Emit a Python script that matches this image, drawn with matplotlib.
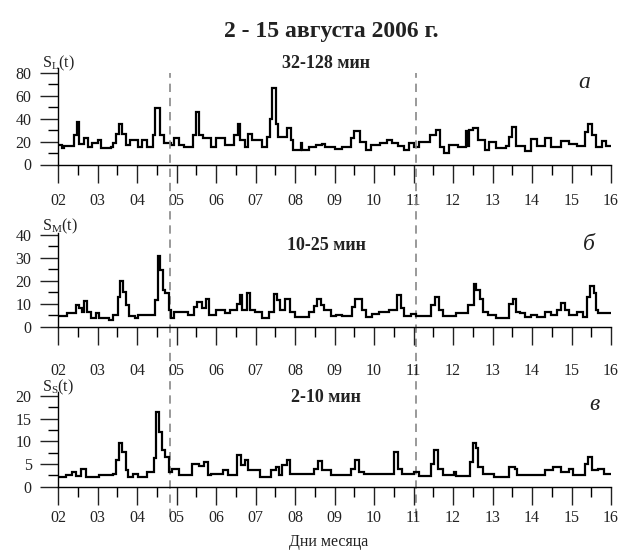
import matplotlib
matplotlib.use('Agg')
import matplotlib.pyplot as plt
from matplotlib.transforms import blended_transform_factory
from matplotlib.ticker import MultipleLocator, FixedLocator, FixedFormatter

plt.rcParams['font.family'] = ['Liberation Serif', 'DejaVu Serif']
plt.rcParams['mathtext.fontset'] = 'custom'
plt.rcParams['mathtext.rm'] = 'Liberation Serif'
plt.rcParams['mathtext.it'] = 'Liberation Serif:italic'

# ---------------- data (day of month, value) ----------------
t_long = [2.00, 2.10, 2.15, 2.40, 2.48, 2.54, 2.66, 2.77, 2.87, 3.00, 3.09, 3.35, 3.39, 3.48,
          3.55, 3.62, 3.73, 3.82, 4.03, 4.12, 4.25, 4.40, 4.46, 4.58, 4.68, 4.85, 4.93, 5.06,
          5.19, 5.42, 5.50, 5.56, 5.66, 5.88, 6.01, 6.22, 6.46, 6.55, 6.61, 6.73, 6.80, 6.91,
          7.16, 7.28, 7.36, 7.42, 7.51, 7.58, 7.80, 7.91, 7.94, 8.14, 8.18, 8.35, 8.52, 8.69, 8.77,
          9.01, 9.20, 9.41, 9.49, 9.64, 9.79, 9.92, 10.15, 10.34, 10.45, 10.60, 10.76, 10.89, 11.02,
          11.14, 11.42, 11.57, 11.68, 11.78, 11.89, 12.12, 12.33, 12.37, 12.41, 12.50, 12.63,
          12.80, 12.92, 13.09, 13.35, 13.43, 13.49, 13.60, 13.83, 13.98, 14.13, 14.33, 14.48,
          14.73, 14.93, 15.13, 15.33, 15.43, 15.53, 15.63, 15.78, 15.88, 16.00]
s_long = [17, 14, 16, 26, 37, 18, 23, 15.6, 18.5, 21, 14, 15.5, 18.5, 27,
          35, 27, 17, 21, 15.5, 21, 15.6, 26, 49, 26, 18.5, 17, 23, 17,
          15.6, 26, 46, 26, 23, 15.6, 23, 17, 26, 35, 21, 15.6, 26.5, 21,
          15.6, 24, 40, 67, 35, 24, 32, 21, 12.6, 18.5, 12.6, 15.6, 17, 17.6, 15.6,
          13.5, 15, 23, 29, 20, 12.6, 17, 18.5, 21, 18.5, 16.5, 12.6, 18.5, 15.6,
          20, 26, 30, 15.6, 10, 17, 15.6, 29, 16, 30, 32, 21,
          12.6, 20, 14, 16, 24, 33, 16, 12, 22, 16, 23.5, 15,
          20.6, 17.6, 16, 28, 35, 26, 15, 20.6, 16, 16]

t_mid = [2.00, 2.23, 2.45, 2.53, 2.60, 2.66, 2.74, 2.83, 2.96, 3.05, 3.30, 3.39, 3.52, 3.58,
         3.65, 3.72, 3.80, 3.95, 4.03, 4.46, 4.53, 4.59, 4.66, 4.72, 4.80, 4.86, 4.93, 5.28,
         5.45, 5.53, 5.64, 5.75, 5.83, 6.01, 6.22, 6.35, 6.52, 6.61, 6.65, 6.78, 6.86, 6.99,
         7.16, 7.33, 7.46, 7.54, 7.63, 7.75, 7.88, 8.01, 8.35, 8.47, 8.56, 8.65, 8.73, 8.90,
         9.03, 9.19, 9.45, 9.53, 9.69, 9.79, 9.96, 10.13, 10.38, 10.59, 10.68, 10.76, 10.93,
         11.06, 11.44, 11.55, 11.65, 11.74, 12.08, 12.37, 12.52, 12.58, 12.69, 12.75, 12.88,
         13.09, 13.43, 13.52, 13.60, 13.70, 13.83, 13.98, 14.13, 14.33, 14.48, 14.63, 14.73,
         14.83, 14.93, 15.13, 15.28, 15.40, 15.46, 15.56, 15.63, 15.68, 16.00]
s_mid = [4.6, 5.8, 9.4, 8, 6.5, 11.3, 6.5, 3.6, 6, 4, 2.9, 5, 13, 20,
         15, 9.4, 4.6, 4, 5, 11.6, 30.7, 24.6, 16, 14.5, 7.2, 3.6, 6.5, 5,
         8.7, 10.9, 8, 11.9, 5, 7.2, 5.8, 7.2, 10, 13.8, 7.2, 14.5, 7.2, 6.5,
         4, 6.5, 14.2, 11.6, 7.2, 12.3, 6.5, 4.3, 6.5, 9, 11.9, 9.4, 7.2, 4.6,
         5, 4.6, 8.7, 12.3, 7.2, 4.3, 5.5, 6.5, 7.2, 13.8, 8, 4.6, 5.5,
         4.6, 9.4, 13, 7.2, 4.6, 6, 9.4, 18.8, 16, 12.3, 6.5, 5,
         3.6, 10, 11.9, 6.5, 5.9, 4.4, 5, 4.4, 6.6, 5, 7.3, 10.2,
         7.3, 5, 6.6, 4.4, 13, 17.6, 14.6, 7.3, 5.9, 5.9]

t_short = [2.00, 2.19, 2.36, 2.45, 2.57, 2.70, 3.05, 3.39, 3.48, 3.54, 3.63, 3.72, 3.78, 3.90,
           4.03, 4.25, 4.42, 4.49, 4.55, 4.63, 4.72, 4.80, 4.89, 5.06, 5.40, 5.58, 5.70, 5.79,
           5.88, 6.18, 6.31, 6.52, 6.63, 6.73, 6.82, 7.12, 7.38, 7.51, 7.59, 7.68, 7.80, 7.88,
           7.97, 8.47, 8.58, 8.69, 8.90, 9.41, 9.53, 9.62, 9.75, 10.50, 10.62, 10.72, 11.02,
           11.14, 11.44, 11.52, 11.61, 11.74, 12.02, 12.08, 12.43, 12.50, 12.58, 12.63, 12.75,
           13.05, 13.43, 13.56, 13.63, 14.33, 14.53, 14.73, 14.93, 15.03, 15.33, 15.43, 15.53,
           15.68, 15.83, 16.00]
s_short = [2.1, 2.6, 3.3, 2.4, 3.8, 2.2, 2.6, 2.9, 5.9, 9.7, 7.7, 3.7, 2.2, 2.9,
           2.2, 3.3, 6.3, 16.5, 12.1, 8.1, 6.6, 3.3, 3.8, 2.6, 5.1, 4.6, 5.5, 2.6,
           2.9, 3.7, 2.6, 7, 4.8, 6, 3.7, 2.2, 3.7, 4.4, 2.6, 4.8, 6, 2.9,
           2.7, 4, 5.7, 3.7, 2.6, 4, 6, 3.3, 2.8, 7.7, 4, 2.8, 3.2,
           2.4, 5.1, 8.1, 4, 2.6, 3.3, 2.4, 5.5, 9.6, 8.5, 4.4, 2.9,
           2.2, 4.4, 4, 2.5, 3.6, 4.4, 3.3, 4, 2.5, 5, 6.5, 3.6,
           4, 2.9, 2.9]

day_ticks = list(range(2, 17))
day_labels = ['%02d' % d for d in day_ticks]
event_days = [4.83, 11.06]

title = '2 - 15 августа 2006 г.'
band_titles = ['32-128 мин', '10-25 мин', '2-10 мин']
panel_letters = ['а', 'б', 'в']
ylabels = [r'S$_\mathregular{L}$(t)', r'S$_\mathregular{M}$(t)', r'S$_\mathregular{S}$(t)']
xlabel = 'Дни месяца'

# ---------------- figure ----------------
W, H = 620, 550
fig = plt.figure(figsize=(W / 100, H / 100), dpi=100)

def frac_rect(left, right, ybot, ytop):
    return [left / W, 1 - ybot / H, (right - left) / W, (ybot - ytop) / H]

panels = [
    dict(t=t_long, s=s_long, rect=frac_rect(58, 611, 164.5, 68.4), ylim=84,
         major=20, minor=10, pad=7.5, ylab_y=63, title_y=63, letter_y=83, letter_x=584),
    dict(t=t_mid, s=s_mid, rect=frac_rect(58, 611, 326.7, 232.7), ylim=41,
         major=10, minor=5, pad=13, ylab_y=226, title_y=245, letter_y=244, letter_x=589),
    dict(t=t_short, s=s_short, rect=frac_rect(58, 611, 486.7, 391.5), ylim=21,
         major=5, minor=2.5, pad=3.6, ylab_y=387, title_y=397, letter_y=405, letter_x=594),
]

axes = []
for i, p in enumerate(panels):
    ax = fig.add_axes(p['rect'])
    ax.plot(p['t'], p['s'], color='black', lw=1.6, drawstyle='steps-post',
            solid_joinstyle='miter')
    ax.set_xlim(2, 16)
    ax.set_ylim(0, p['ylim'])
    for side in ('top', 'right'):
        ax.spines[side].set_visible(False)
    ax.spines['left'].set_linewidth(1.0)
    ax.spines['bottom'].set_linewidth(1.0)
    ax.patch.set_alpha(0)
    ax.xaxis.set_major_locator(FixedLocator(day_ticks))
    ax.xaxis.set_major_formatter(FixedFormatter(day_labels))
    ax.xaxis.set_minor_locator(MultipleLocator(0.5))
    ax.yaxis.set_major_locator(MultipleLocator(p['major']))
    ax.yaxis.set_minor_locator(MultipleLocator(p['minor']))
    ax.tick_params(axis='x', which='major', direction='out', length=13, width=1.0,
                   pad=p['pad'], labelsize=11.5, colors='#222222')
    ax.tick_params(axis='x', which='minor', direction='out', length=7, width=1.0)
    ax.tick_params(axis='y', which='major', direction='out', length=13, width=1.0,
                   pad=6, labelsize=11.5, colors='#222222')
    ax.tick_params(axis='y', which='minor', direction='out', length=7, width=1.0)
    ax.set_ylim(0, p['ylim'])
    fig.text(42 / W, 1 - p['ylab_y'] / H, ylabels[i], fontsize=11.5, ha='left',
             va='center', color='#222222')
    fig.text(326 / W, 1 - p['title_y'] / H, band_titles[i], fontsize=13,
             fontweight='bold', ha='center', va='center', color='#222222')
    fig.text(p['letter_x'] / W, 1 - p['letter_y'] / H, panel_letters[i], fontsize=17,
             fontstyle='italic', ha='center', va='center', color='#222222')
    axes.append(ax)

# dashed event lines through all panels
trans = blended_transform_factory(axes[0].transData, fig.transFigure)
for d in event_days:
    axes[0].plot([d, d], [1 - 517 / H, 1 - 73 / H], transform=trans, clip_on=False,
                 color='#888888', lw=1.2, linestyle=(0, (5, 3.5)))

fig.text(331 / W, 1 - 31 / H, title, fontsize=17, fontweight='bold', ha='center',
         va='center', color='#222222')
fig.text(329 / W, 1 - 542 / H, xlabel, fontsize=11.5, ha='center', va='center',
         color='#222222')

fig.savefig('out.png', dpi=100, facecolor='white')
